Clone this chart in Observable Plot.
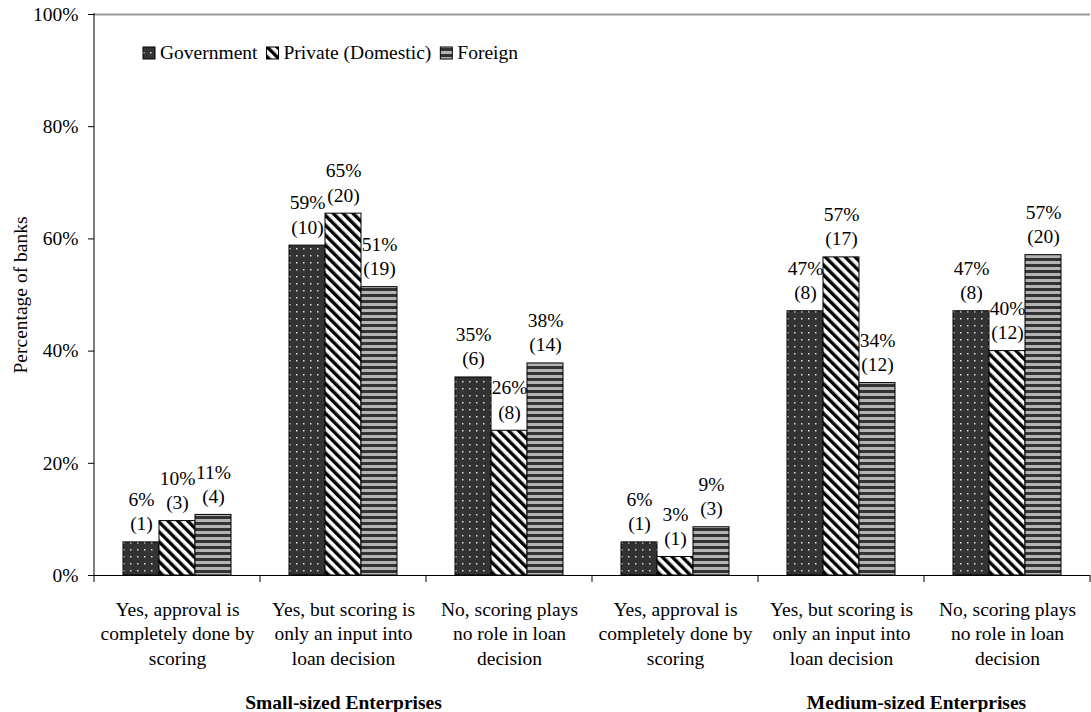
<!DOCTYPE html>
<html><head><meta charset="utf-8">
<script src="https://cdn.jsdelivr.net/npm/d3@7"></script>
<script src="https://cdn.jsdelivr.net/npm/@observablehq/plot@0.6"></script>
<style>
body{margin:0;background:#fff}
#chart{width:1091px;height:712px}
</style>
</head><body><div id="chart"></div>
<script>
// ---- data ----
const series = ["Government", "Private (Domestic)", "Foreign"];
const categories = [
  "Yes, approval is\ncompletely done by\nscoring",
  "Yes, but scoring is\nonly an input into\nloan decision",
  "No, scoring plays\nno role in loan\ndecision"
];
const groups = ["Small-sized Enterprises", "Medium-sized Enterprises"];
const groupKeys = ["S", "M"];
const yTicks = [0, 20, 40, 60, 80, 100];

// percentage of banks (Small)
const smallGov  = [5.9, 58.8, 35.3];
const smallPriv = [9.7, 64.5, 25.8];
const smallFor  = [10.8, 51.4, 37.8];
// number of banks (Small)
const smallGovN  = [1, 10, 6];
const smallPrivN = [3, 20, 8];
const smallForN  = [4, 19, 14];
// percentage of banks (Medium)
const medGov  = [5.9, 47.1, 47.1];
const medPriv = [3.3, 56.7, 40.0];
const medFor  = [8.6, 34.3, 57.1];
// number of banks (Medium)
const medGovN  = [1, 8, 8];
const medPrivN = [1, 17, 12];
const medForN  = [3, 12, 20];

// ---- build table ----
const valueSets = {
  S: [smallGov, smallPriv, smallFor],
  M: [medGov, medPriv, medFor]
};
const countSets = {
  S: [smallGovN, smallPrivN, smallForN],
  M: [medGovN, medPrivN, medForN]
};
const rows = [];
const keys = [];
const keyLabel = {};
for (const g of groupKeys) {
  categories.forEach((c, i) => {
    const key = g + i;
    keys.push(key);
    keyLabel[key] = c;
    series.forEach((s, j) => {
      rows.push({key, series: s, value: valueSets[g][j][i], n: countSets[g][j][i]});
    });
  });
}
const groupRows = [
  {key: keys[1], name: groups[0]},
  {key: keys[5], name: groups[1]}
];

const FONT = "Liberation Serif, Times New Roman, serif";
const FS = 19.5;
const patternIds = ["pGov", "pPriv", "pFor"];

const plot = Plot.plot({
  width: 1091,
  height: 712,
  marginLeft: 93,
  marginRight: 0,
  marginTop: 14,
  marginBottom: 137,
  style: {fontFamily: FONT, fontSize: FS + "px", color: "black", background: "white", overflow: "visible"},
  fx: {domain: keys, padding: 0},
  x: {domain: series, paddingInner: 0, paddingOuter: 0.75, axis: null},
  y: {domain: [0, 100]},
  color: {type: "ordinal", domain: series, range: patternIds.map(id => `url(#${id})`)},
  marks: [
    Plot.ruleY([100], {stroke: "#999", strokeWidth: 2}),
    Plot.barY(rows, {fx: "key", x: "series", y: "value", fill: "series", stroke: "black", strokeWidth: 1}),
    Plot.ruleY([0], {stroke: "black", strokeWidth: 1}),
    Plot.text(rows, {
      fx: "key", x: "series", y: "value",
      text: d => `${Math.round(d.value)}%\n(${d.n})`,
      lineAnchor: "bottom", lineHeight: 1.25, dy: -12,
      fontSize: FS, fill: "black"
    }),
    Plot.text(groupRows.slice(0, 1), {
      fx: "key", text: "name", frameAnchor: "bottom", dy: 133,
      lineAnchor: "bottom", fontWeight: "bold", fontSize: FS, fill: "black"
    }),
    Plot.text(groupRows.slice(1), {
      fx: "key", text: "name", frameAnchor: "bottom", dy: 133, dx: -91,
      lineAnchor: "bottom", fontWeight: "bold", fontSize: FS, fill: "black"
    }),
    Plot.axisY({
      ticks: yTicks, tickFormat: d => d + "%", tickSize: 6, tickPadding: 10,
      fontSize: FS, label: "Percentage of banks", labelArrow: "none",
      labelAnchor: "center", labelOffset: 81
    }),
    Plot.axisFx({
      anchor: "bottom", tickSize: 0, tickPadding: 23, lineHeight: 1.25,
      tickFormat: k => keyLabel[k], fontSize: FS, label: null
    })
  ]
});

document.getElementById("chart").appendChild(plot);
const svg = d3.select(plot.tagName.toLowerCase() === "svg" ? plot : plot.querySelector("svg"));

// patterns
const defs = svg.insert("defs", ":first-child");
const pg = defs.append("pattern").attr("id", "pGov").attr("patternUnits", "userSpaceOnUse")
  .attr("width", 7).attr("height", 7);
pg.append("rect").attr("width", 7).attr("height", 7).attr("fill", "#333");
pg.append("rect").attr("x", 3).attr("y", 3).attr("width", 1.5).attr("height", 1.5).attr("fill", "#ddd");
const pp = defs.append("pattern").attr("id", "pPriv").attr("patternUnits", "userSpaceOnUse")
  .attr("width", 7).attr("height", 7).attr("patternTransform", "rotate(-45)");
pp.append("rect").attr("width", 7).attr("height", 7).attr("fill", "white");
pp.append("rect").attr("width", 3.4).attr("height", 7).attr("fill", "black");
const pf = defs.append("pattern").attr("id", "pFor").attr("patternUnits", "userSpaceOnUse")
  .attr("width", 6).attr("height", 6);
pf.append("rect").attr("width", 6).attr("height", 6).attr("fill", "#b3b3b3");
pf.append("rect").attr("width", 6).attr("height", 3).attr("fill", "#333");

// axis lines and category boundary ticks (from Plot's own scales)
const fx = plot.scale("fx");
const y = plot.scale("y");
const y0 = y.apply(0), y100 = y.apply(100);
const fxStart = fx.apply(keys[0]);
const extra = svg.append("g").attr("stroke", "black").attr("stroke-width", 1);
extra.append("line").attr("x1", fxStart).attr("x2", fxStart).attr("y1", y0 + 0.5).attr("y2", y100 - 1);
const bounds = keys.map(k => fx.apply(k)).concat([fx.apply(keys[keys.length - 1]) + fx.bandwidth]);
bounds.forEach(b => {
  const xx = Math.min(b, 1090.5);
  extra.append("line").attr("x1", xx).attr("x2", xx).attr("y1", y0).attr("y2", y0 + 7);
});

// legend
const leg = svg.append("g").attr("font-family", FONT).attr("font-size", FS).attr("text-anchor", "start");
let lx = 143;
series.forEach((s, i) => {
  leg.append("rect").attr("x", lx).attr("y", 47).attr("width", 12).attr("height", 12)
    .attr("fill", `url(#${patternIds[i]})`).attr("stroke", "black").attr("stroke-width", 1);
  const t = leg.append("text").attr("x", lx + 17).attr("y", 59).attr("fill", "black")
    .attr("text-anchor", "start").text(s);
  lx += 17 + t.node().getComputedTextLength() + 9;
});
</script>
</body></html>
